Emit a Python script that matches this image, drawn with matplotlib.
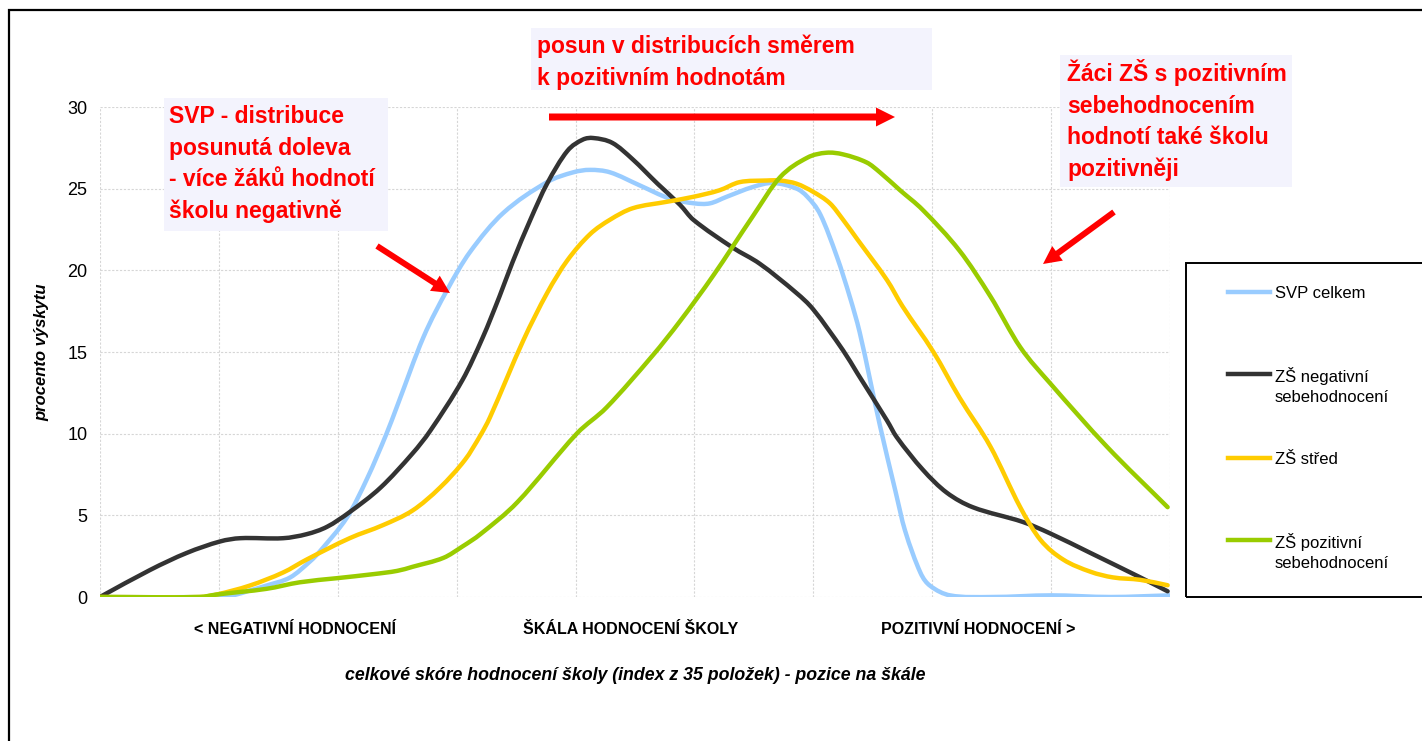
import matplotlib
matplotlib.use("Agg")
import matplotlib.pyplot as plt
from matplotlib.patches import Rectangle, FancyArrowPatch, PathPatch
from matplotlib.lines import Line2D
from matplotlib.path import Path

plt.rcParams['font.family'] = ['Liberation Sans', 'DejaVu Sans']

W, H = 1422, 741

# --- data (x: position on the scale 0-90, y: percent) ---
svp_x = [0, 10.1, 11.2, 12.6, 14.0, 16.0, 17.7, 18.5, 20.8, 22.5, 24.1, 25.0, 27.2, 29.2,
         31.1, 33.9, 37.6, 39.8, 41.2, 42.9, 45.4, 47.9, 50.0, 51.3, 52.7, 54.9, 56.6, 58.6,
         59.5, 60.6, 62.0, 63.1, 63.9, 64.8, 65.6, 66.9, 67.7, 69.0, 69.8, 71.5, 75, 80, 85, 90]
svp_y = [0, 0, 0.1, 0.4, 0.7, 1.2, 2.2, 2.8, 4.9, 7.3, 10.0, 11.7, 15.9, 18.8,
         21.1, 23.5, 25.4, 26.0, 26.15, 26.0, 25.2, 24.4, 24.1, 24.1, 24.5, 25.1, 25.35, 25.0,
         24.5, 23.4, 20.8, 18.3, 16.2, 13.2, 10.5, 6.5, 4.1, 1.5, 0.7, 0.1, 0, 0.1, 0, 0.1]

neg_x = [0, 4.2, 7.3, 10.1, 11.8, 15.4, 17.4, 19.1, 21.0, 23.6, 26.3, 27.8, 30.5, 32.2,
         33.6, 34.7, 36.2, 37.6, 39.3, 40.6, 41.5, 43.1, 44.8, 46.9, 48.8, 49.9, 53.2, 55.5,
         58.6, 60.0, 62.5, 63.7, 66.2, 67.0, 69.2, 71.2, 73.4, 77.6, 79.9, 83.3, 87.5, 89.8]
neg_y = [0, 1.65, 2.7, 3.4, 3.6, 3.6, 3.85, 4.3, 5.2, 6.7, 8.8, 10.2, 13.3, 15.9,
         18.4, 20.5, 23.1, 25.3, 27.3, 28.0, 28.1, 27.8, 26.8, 25.3, 24.0, 23.1, 21.4, 20.4,
         18.6, 17.6, 15.1, 13.7, 10.8, 9.8, 7.8, 6.4, 5.5, 4.6, 3.9, 2.7, 1.2, 0.35]

mid_x = [0, 8.4, 9.8, 12.6, 15.4, 17.4, 21.0, 23.8, 26.3, 28.6, 30.7, 32.0, 32.8, 35.6,
         37.6, 39.3, 41.2, 42.9, 44.8, 47.7, 49.9, 52.1, 53.8, 56.1, 57.2, 58.6, 60.0, 61.4,
         62.5, 63.7, 66.2, 67.5, 70.1, 72.3, 74.9, 77.4, 79.1, 81.0, 83.3, 85.2, 87.5, 89.8]
mid_y = [0, 0, 0.15, 0.7, 1.5, 2.3, 3.6, 4.4, 5.3, 6.7, 8.4, 9.9, 11.0, 15.7,
         18.6, 20.6, 22.2, 23.1, 23.8, 24.2, 24.5, 24.9, 25.4, 25.5, 25.5, 25.3, 24.8, 24.1,
         23.1, 21.9, 19.4, 17.8, 15.0, 12.2, 9.2, 5.5, 3.5, 2.3, 1.55, 1.2, 1.05, 0.72]

poz_x = [0, 8.4, 9.8, 14.0, 16.8, 19.9, 23.0, 25.0, 26.3, 28.9, 30.5, 32.0, 35.1, 40.1, 42.6,
         46.5, 48.8, 51.6, 54.9, 57.2, 59.5, 61.1, 62.5, 64.5, 65.6, 67.3, 69.2, 72.3, 74.9, 77.4,
         79.9, 84.7, 89.8]
poz_y = [0, 0, 0.15, 0.5, 0.9, 1.15, 1.4, 1.6, 1.85, 2.4, 3.1, 3.85, 5.8, 10.0, 11.6,
         14.8, 16.9, 19.7, 23.3, 25.7, 26.9, 27.2, 27.1, 26.6, 26.0, 24.9, 23.7, 21.2, 18.4, 15.3,
         13.1, 9.2, 5.5]

series_labels = ["SVP celkem", "ZŠ negativní\nsebehodnocení", "ZŠ střed", "ZŠ pozitivní\nsebehodnocení"]
series_colors = ["#99CCFF", "#333333", "#FFCC00", "#99CC00"]

y_ticks = [0, 5, 10, 15, 20, 25, 30]
scale_labels = ["< NEGATIVNÍ HODNOCENÍ", "ŠKÁLA HODNOCENÍ ŠKOLY", "POZITIVNÍ HODNOCENÍ >"]

note_svp = ["SVP - distribuce", "posunutá doleva", "- více žáků hodnotí", "školu negativně"]
note_shift = ["posun v distribucích směrem", "k pozitivním hodnotám"]
note_poz = ["Žáci ZŠ s pozitivním", "sebehodnocením", "hodnotí také školu", "pozitivněji"]


def fx(px):
    return px / W


def fy(py):
    return 1 - py / H


def smooth_path(x, y):
    # smoothed line like Excel: cubic Hermite through the points, centred-difference slopes
    n = len(x)
    m = []
    for i in range(n):
        a, b = max(i - 1, 0), min(i + 1, n - 1)
        m.append((y[b] - y[a]) / (x[b] - x[a]))
    verts = [(x[0], y[0])]
    codes = [Path.MOVETO]
    for i in range(n - 1):
        h = (x[i + 1] - x[i]) / 3
        verts += [(x[i] + h, y[i] + m[i] * h),
                  (x[i + 1] - h, y[i + 1] - m[i + 1] * h),
                  (x[i + 1], y[i + 1])]
        codes += [Path.CURVE4] * 3
    return Path(verts, codes)


fig = plt.figure(figsize=(W / 100, H / 100), dpi=100)
ax = fig.add_axes([fx(100), fy(597), fx(1170) - fx(100), fy(107) - fy(597)])

xs = [svp_x, neg_x, mid_x, poz_x]
ys = [svp_y, neg_y, mid_y, poz_y]
for x, y, c in zip(xs, ys, series_colors):
    ax.add_patch(PathPatch(smooth_path(x, y), fill=False, ec=c, lw=3.2,
                           capstyle='round', joinstyle='round', zorder=3))

ax.set_xlim(0, 90)
ax.set_ylim(0, 30)
ax.set_xticks(range(0, 91, 10))
ax.set_yticks(y_ticks)
ax.set_xticklabels([])
ax.tick_params(length=0)
ax.tick_params(axis='y', pad=9, labelsize=13)
ax.grid(True, color='#D6D6D6', lw=0.8, ls=(0, (2, 1.5)))
for s in ax.spines.values():
    s.set_visible(False)
ax.set_ylabel("procento výskytu", fontsize=12, fontweight='bold', style='italic', labelpad=13)

# outer frame
fig.add_artist(Rectangle((fx(9), -0.2), 1.2, fy(10) + 0.2, transform=fig.transFigure,
                         fill=False, ec='black', lw=1.6))

# scale labels and x title
for lab, cx in zip(scale_labels, [295, 631, 978]):
    fig.text(fx(cx), fy(630), lab, ha='center', va='center', fontsize=11.5, fontweight='bold')
fig.text(fx(635), fy(676), "celkové skóre hodnocení školy (index z 35 položek) - pozice na škále",
         ha='center', va='center', fontsize=12.8, fontweight='bold', style='italic')


# annotation boxes
def note(lines, box, left, base0, step=31.6):
    x0, y0, x1, y1 = box
    fig.add_artist(Rectangle((fx(x0), fy(y1)), fx(x1) - fx(x0), fy(y0) - fy(y1),
                             transform=fig.transFigure, fc='#F3F3FD', ec='none', zorder=1))
    for i, t in enumerate(lines):
        fig.text(fx(left), fy(base0 + i * step), t, ha='left', va='baseline',
                 fontsize=16.5, fontweight='bold', color='#FF0000', zorder=2)


note(note_svp, (164, 98, 388, 231), 169, 123)
note(note_shift, (531, 28, 932, 90), 537, 53)
note(note_poz, (1060, 55, 1292, 187), 1067, 81)


# red arrows
def arrow(p0, p1, tail, head):
    fig.add_artist(FancyArrowPatch((fx(p0[0]), fy(p0[1])), (fx(p1[0]), fy(p1[1])),
                                   transform=fig.transFigure,
                                   arrowstyle=f"simple,head_length={head},head_width={head},tail_width={tail}",
                                   mutation_scale=0.72, color='#FF0000', lw=0,
                                   shrinkA=0, shrinkB=0, zorder=4))


arrow((549, 117), (895, 117), 7, 19)
arrow((377, 246), (450, 293), 6, 18)
arrow((1114, 212), (1043, 264), 6, 18)

# legend
fig.add_artist(Rectangle((fx(1186), fy(597)), 0.5, fy(263) - fy(597), transform=fig.transFigure,
                         fill=False, ec='black', lw=1.4))
for lab, c, hy in zip(series_labels, series_colors, [292, 374, 458, 540]):
    fig.add_artist(Line2D([fx(1228), fx(1270)], [fy(hy), fy(hy)], transform=fig.transFigure,
                          color=c, lw=3.2))
    for j, part in enumerate(lab.split("\n")):
        fig.text(fx(1275), fy(hy + 2 + j * 22), part, ha='left', va='center', fontsize=12)

fig.savefig("out.png", dpi=100)
